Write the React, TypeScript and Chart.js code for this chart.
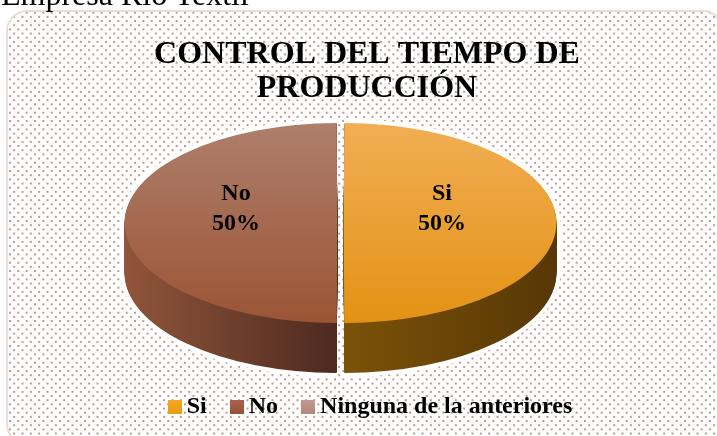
import React, { useEffect, useRef } from "react";
import { Chart, registerables } from "chart.js";

Chart.register(...registerables);

const titleLines = ["CONTROL DEL TIEMPO DE", "PRODUCCIÓN"];
const categories = ["Si", "No", "Ninguna de la anteriores"];
const values = [50, 50, 0];
const topLight = ["#F1AE55", "#AE7F6C", "#BE978D"];
const topDark = ["#E39213", "#9B5435", "#B5877C"];
const sideLeft = ["#7C5208", "#90553A", "#80604F"];
const sideRight = ["#573706", "#4E2A20", "#60403A"];
const legendTop = ["#F5A623", "#A8614A", "#C09A90"];
const legendBottom = ["#EE9A12", "#98523A", "#B5877C"];

const CX = 340.5, CY = 223, RX = 212.7, RY = 100, DEPTH = 50, OFFSET = 7.5;

function toScreen(chart: any, grow = 0) {
  const arc = chart.getDatasetMeta(0).data[0];
  const R = arc.outerRadius + OFFSET / 4;
  return { ox: arc.x, oy: arc.y, sx: (RX + grow) / R, sy: (RY + grow) / R };
}

function applyPie(ctx: CanvasRenderingContext2D, chart: any, dy = 0, grow = 0) {
  const { ox, oy, sx, sy } = toScreen(chart, grow);
  ctx.translate(CX, CY + dy);
  ctx.scale(sx, sy);
  ctx.translate(-ox, -oy);
}

const panelPlugin = {
  id: "panel",
  afterLayout(chart: any) {
    chart.legend.left += 6.5;
    chart.legend.right += 6.5;
  },
  beforeDraw(chart: any) {
    const ctx: CanvasRenderingContext2D = chart.ctx;
    const tile = document.createElement("canvas");
    tile.width = 25; tile.height = 25;
    const t = tile.getContext("2d")!;
    t.fillStyle = "#BE9A93";
    for (let r = 0; r < 6; r++) {
      for (let c = 0; c < 3; c++) {
        const x = 1.67 + (r % 2 ? 0 : 4.17) + c * 8.333;
        const y = 0.2 + r * 4.167;
        t.fillRect(x - 1, y - 1, 2, 2);
        if (y - 1 < 0) t.fillRect(x - 1, y - 1 + 25, 2, 2);
      }
    }
    ctx.save();
    ctx.beginPath();
    (ctx as any).roundRect(7, 11, 716, 433, 20);
    ctx.fillStyle = "#FFFFFF";
    ctx.fill();
    ctx.save();
    ctx.clip();
    ctx.fillStyle = ctx.createPattern(tile, "repeat")!;
    ctx.fillRect(0, 0, 717, 436);
    ctx.restore();
    ctx.strokeStyle = "#E9DFDA";
    ctx.lineWidth = 2;
    ctx.stroke();
    ctx.restore();
  },
};

const pie3dPlugin = {
  id: "pie3d",
  beforeDatasetDraw(chart: any) {
    const ctx: CanvasRenderingContext2D = chart.ctx;
    const meta = chart.getDatasetMeta(0);
    const { ox, sx } = toScreen(chart);
    const toArcX = (x: number) => ox + (x - CX) / sx;
    // soft white rim that hides the dot pattern around the pie
    for (let dy = DEPTH; dy >= 0; dy -= 2) {
      ctx.save();
      applyPie(ctx, chart, dy, 4);
      meta.data.forEach((arc: any, i: number) => {
        if (!values[i]) return;
        const saved = arc.options;
        arc.options = { ...saved, backgroundColor: "#FFFFFF" };
        arc.draw(ctx);
        arc.options = saved;
      });
      ctx.restore();
    }
    for (let dy = DEPTH; dy >= 1; dy--) {
      ctx.save();
      applyPie(ctx, chart, dy);
      meta.data.forEach((arc: any, i: number) => {
        if (!values[i]) return;
        const saved = arc.options;
        const g = ctx.createLinearGradient(toArcX(i === 0 ? CX : CX - RX), 0, toArcX(i === 0 ? CX + RX : CX), 0);
        g.addColorStop(0, sideLeft[i]);
        g.addColorStop(1, sideRight[i]);
        arc.options = { ...saved, backgroundColor: g };
        arc.draw(ctx);
        arc.options = saved;
      });
      ctx.restore();
    }
    ctx.save();
    applyPie(ctx, chart);
  },
  afterDatasetDraw(chart: any) {
    const ctx: CanvasRenderingContext2D = chart.ctx;
    ctx.restore();
  },
  afterDatasetsDraw(chart: any) {
    const ctx: CanvasRenderingContext2D = chart.ctx;
    const meta = chart.getDatasetMeta(0);
    const { ox, oy, sx, sy } = toScreen(chart);
    const total = values.reduce((a, b) => a + b, 0);
    ctx.save();
    ctx.fillStyle = "#000";
    ctx.font = "bold 24px 'Liberation Serif'";
    ctx.textAlign = "center";
    ctx.textBaseline = "middle";
    meta.data.forEach((arc: any, i: number) => {
      if (!values[i]) return;
      const c = arc.getCenterPoint();
      const x = CX + (c.x - ox) * sx * 0.926 - 1.5;
      const y = CY + (c.y - oy) * sy - 14;
      ctx.fillText(categories[i], x, y - 15);
      ctx.fillText(Math.round((values[i] / total) * 100) + "%", x, y + 15);
    });
    ctx.restore();
  },
};

function swatch(i: number) {
  const c = document.createElement("canvas");
  c.width = 14; c.height = 14;
  const x = c.getContext("2d")!;
  const g = x.createLinearGradient(0, 0, 0, 14);
  g.addColorStop(0, legendTop[i]);
  g.addColorStop(1, legendBottom[i]);
  x.fillStyle = g;
  x.fillRect(0, 0, 14, 14);
  return c;
}

export default function App() {
  const ref = useRef<HTMLCanvasElement>(null);
  useEffect(() => {
    document.body.style.margin = "0";
    const chart = new Chart(ref.current!, {
      type: "pie",
      data: {
        labels: categories,
        datasets: [
          {
            data: values,
            clip: false,
            borderWidth: 0,
            offset: OFFSET,
            backgroundColor: (c: any) => {
              const a = c.chart.chartArea;
              const g = c.chart.ctx.createLinearGradient(0, a ? a.top : 0, 0, a ? a.bottom : 300);
              g.addColorStop(0, topLight[c.dataIndex]);
              g.addColorStop(1, topDark[c.dataIndex]);
              return g;
            },
          } as any,
        ],
      },
      options: {
        responsive: false,
        animation: false,
        layout: { padding: { left: 17, top: 38, bottom: 7 } },
        plugins: {
          tooltip: { enabled: false },
          title: {
            display: true,
            text: titleLines,
            color: "#000",
            font: { family: "'Liberation Serif'", size: 32, weight: "bold", lineHeight: 1.06 },
            padding: { top: 0, bottom: 10 },
          },
          legend: {
            position: "bottom",
            labels: {
              color: "#000",
              font: { family: "'Liberation Serif'", size: 24, weight: "bold" },
              usePointStyle: true,
              boxWidth: 0.01,
              padding: 30,
              generateLabels: () =>
                categories.map((text, i) => ({
                  text,
                  pointStyle: swatch(i),
                  fontColor: "#000",
                  lineWidth: 0,
                  datasetIndex: 0,
                  index: i,
                })) as any,
            },
          },
        },
      } as any,
      plugins: [panelPlugin, pie3dPlugin],
    });
    return () => chart.destroy();
  }, []);
  return (
    <div style={{ position: "absolute", left: 0, top: 0, width: 717, height: 436, overflow: "hidden", background: "#fff" }}>
      <canvas ref={ref} width={717} height={436} style={{ display: "block" }} />
      <div style={{ position: "absolute", left: 1, top: -24, font: "32px 'Liberation Serif'", color: "#000", whiteSpace: "nowrap" }}>
        Empresa Rio Textil
      </div>
    </div>
  );
}
